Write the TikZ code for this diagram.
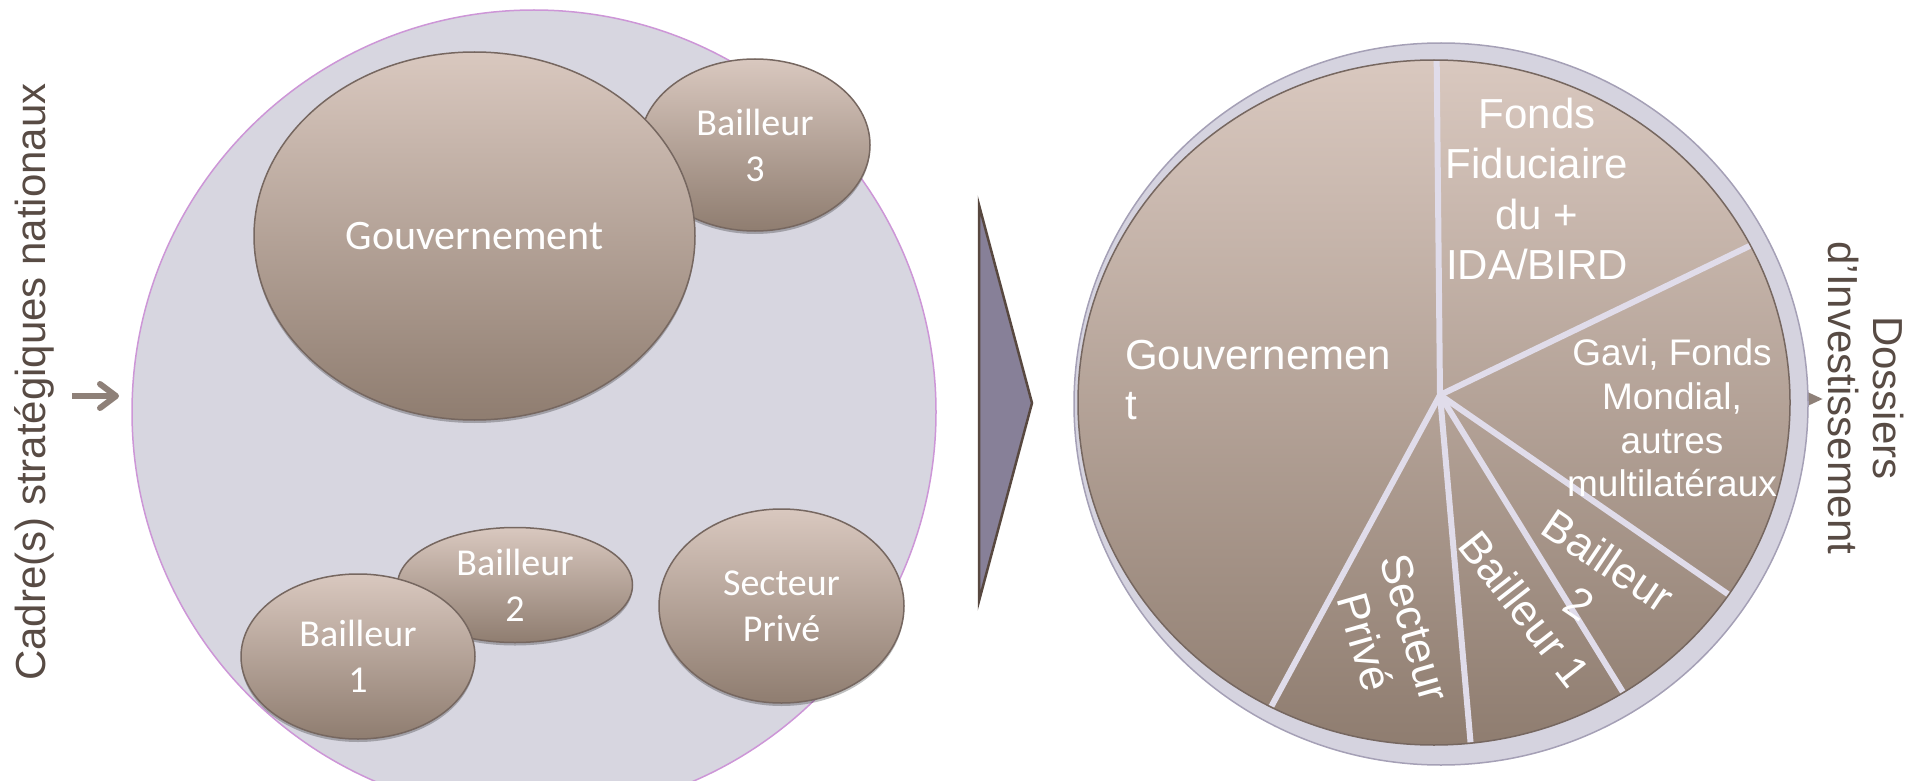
\documentclass[tikz,border=0pt]{standalone}
\usepackage{fontspec}
\setmainfont{Liberation Sans}
\newfontfamily\califont{Carlito}
\usetikzlibrary{shapes.geometric,arrows.meta,shadows}
\definecolor{txtbrown}{RGB}{88,75,68}
\definecolor{arrowbrown}{RGB}{142,128,120}
\definecolor{bigfill}{RGB}{215,214,224}
\definecolor{bigborder}{RGB}{205,150,215}
\definecolor{elltop}{RGB}{217,200,191}
\definecolor{ellbot}{RGB}{143,125,112}
\definecolor{ellborder}{RGB}{118,103,96}
\definecolor{chevfill}{RGB}{135,128,152}
\definecolor{chevborder}{RGB}{88,72,64}
\definecolor{ringfill}{RGB}{213,211,223}
\definecolor{ringborder}{RGB}{165,160,182}
\definecolor{spokecol}{RGB}{224,220,234}
\begin{document}
\begin{tikzpicture}[x=1pt,y=-1pt,
  bubble/.style={ellipse, draw=ellborder, line width=1.5pt, top color=elltop,
    bottom color=ellbot, inner sep=0pt, text=white, align=center,
    font=\califont\fontsize{38}{46}\selectfont,
    drop shadow={shadow xshift=0pt, shadow yshift=-3pt, opacity=0.25, fill=black}},
  pietext/.style={text=white, inner sep=0pt, font=\fontsize{42}{50.5}\selectfont},
  rottext/.style={text=white, inner sep=0pt, align=center, font=\fontsize{44}{52}\selectfont},
  sidetext/.style={text=txtbrown, inner sep=0pt, align=center},
  spoke/.style={draw=spokecol, line width=6pt}
]
\useasboundingbox (0,0) rectangle (1915,781);
\clip (0,0) rectangle (1915,781);

% ---------- left panel ----------
\node[sidetext, rotate=90, anchor=base, font=\fontsize{42}{50}\selectfont] (cadre) at (45,382) {Cadre(s) stratégiques nationaux};
\coordinate (inA) at (72,396);
\coordinate (inB) at (119,396);
\draw[arrowbrown, line width=6pt, -{Straight Barb[length=16pt,width=24pt,round]}] (inA) -- (inB);

\path[fill=bigfill, draw=bigborder, line width=1.5pt] (534,412) circle[radius=402pt];

\node[bubble, minimum width=230pt, minimum height=172pt] (b3) at (755,145) {Bailleur\\3};
\node[bubble, minimum width=441pt, minimum height=368pt, font=\califont\fontsize{42}{50}\selectfont] (gouv) at (474.5,236) {Gouvernement};
\node[bubble, minimum width=235pt, minimum height=115pt] (b2) at (515,585) {Bailleur\\2};
\node[bubble, minimum width=234pt, minimum height=165pt] (b1) at (358,656.5) {Bailleur\\1};
\node[bubble, minimum width=245pt, minimum height=194pt] (sp) at (781.5,606) {Secteur\\Privé};

% ---------- chevron ----------
\draw[fill=chevfill, draw=chevborder, line width=2.5pt, line join=miter] (979,205) -- (1032,403) -- (979,601) -- cycle;

% ---------- right panel ----------
\coordinate (outA) at (1750,399);
\coordinate (outB) at (1823,399);
\draw[arrowbrown, line width=4pt, -{Triangle[length=18pt,width=15pt]}] (outA) -- (outB);

\path[fill=ringfill, draw=ringborder, line width=1.5pt] (1441,404) ellipse [x radius=367pt, y radius=361pt];
\path[draw=ellborder, line width=1.5pt, top color=elltop, bottom color=ellbot] (1434,402.5) ellipse [x radius=356pt, y radius=342.5pt];

\coordinate (hub) at (1440,395);
\coordinate (e1) at (1436,-7);
\coordinate (e2) at (1816,214);
\coordinate (e3) at (1787,635);
\coordinate (e4) at (1661,754);
\coordinate (e5) at (1477,816);
\coordinate (e6) at (1238,768);
\begin{scope}
\clip (1434,402.5) ellipse [x radius=355pt, y radius=341.5pt];
\draw[spoke] (hub) -- (e1);
\draw[spoke] (hub) -- (e2);
\draw[spoke] (hub) -- (e3);
\draw[spoke] (hub) -- (e4);
\draw[spoke] (hub) -- (e5);
\draw[spoke] (hub) -- (e6);
\end{scope}

\node[pietext, align=center] (fonds) at (1537,189) {Fonds\\Fiduciaire\\du +\\IDA/BIRD};
\node[pietext, align=left, anchor=west] (pgouv) at (1125,380) {Gouvernemen\\t};
\node[pietext, align=center, font=\fontsize{37}{43.7}\selectfont] (gavi) at (1672,418) {Gavi, Fonds\\Mondial,\\autres\\multilatéraux};
\node[rottext, rotate=-34] (pb2) at (1594,582) {Bailleur\\2};
\node[rottext, rotate=-52] (pb1) at (1525,609) {Bailleur 1};
\node[rottext, rotate=-74] (psp) at (1390,635) {Secteur\\Privé};

\node[sidetext, rotate=-90, font=\fontsize{42}{45}\selectfont] (dossiers) at (1866,398) {Dossiers\\d’Investissement};
\end{tikzpicture}
\end{document}
